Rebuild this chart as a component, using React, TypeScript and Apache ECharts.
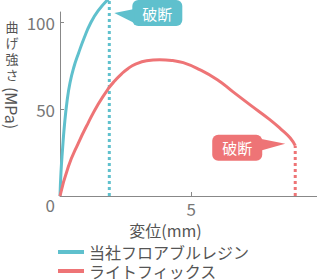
import React, { useEffect, useRef } from "react";
import * as echarts from "echarts";

// Displacement (mm) and flexural strength (MPa)
const blueX = [0, 0.038, 0.095, 0.17, 0.27, 0.38, 0.53, 0.71, 0.92, 1.15, 1.45, 1.88];
const blueY = [0, 13.8, 26.5, 40.9, 54.7, 65.1, 74.3, 82.4, 91.0, 99.1, 106.6, 114];
const redX = [0, 0.32, 0.7, 1.08, 1.46, 1.84, 2.1, 2.35, 2.6, 2.86, 3.3, 3.8, 4.3, 4.7, 5.3, 6.0, 6.6, 7.25, 8.0, 8.5, 8.78, 8.97];
const redY = [0, 17, 30.5, 42.3, 53, 61.8, 66.5, 70.4, 73.5, 75.8, 77.9, 78.5, 78, 76.8, 73, 67, 60, 52.5, 44, 37.5, 33.4, 29];
const seriesNames = ["当社フロアブルレジン", "ライトフィックス"];
const breakLabel = "破断";
const xTicks = [0, 5];
const yTicks = [0, 50, 100];
const yTitleChars = ["曲", "げ", "強", "さ"];
const yTitleUnit = "(MPa)";

const TEAL = "#5fc0cd";
const RED = "#ee7476";
const FONT = "'Noto Sans CJK JP', 'Noto Sans', sans-serif";

export default function App() {
  const ref = useRef<HTMLDivElement>(null);
  useEffect(() => {
    document.body.style.margin = "0";
    const chart = echarts.init(ref.current!, undefined, { renderer: "svg" });
    const zip = (xs: number[], ys: number[]) => xs.map((x, i) => [x, ys[i]]);
    const bx = blueX[blueX.length - 1];
    const by = blueY[blueY.length - 1];
    const rx = redX[redX.length - 1];
    const ry = redY[redY.length - 1];
    const legendBase = {
      orient: "horizontal",
      left: 58,
      padding: 0,
      itemWidth: 26,
      itemHeight: 4,
      icon: "rect",
      textStyle: { fontSize: 16, color: "#555", lineHeight: 16, fontFamily: FONT },
    };
    chart.setOption({
      animation: false,
      textStyle: { fontFamily: FONT },
      grid: { left: 60, right: 0, top: 12, bottom: 84, containLabel: false, outerBoundsMode: "none" },
      xAxis: {
        type: "value",
        min: 0,
        max: 9.8,
        interval: xTicks[1] - xTicks[0],
        name: "変位(mm)",
        nameLocation: "middle",
        nameGap: 22,
        nameTextStyle: { fontSize: 16, color: "#555", padding: [0, 46, 0, 0], fontFamily: FONT },
        axisLine: { lineStyle: { color: "#888", width: 1 } },
        axisTick: { inside: true, length: 4, lineStyle: { color: "#888" } },
        axisLabel: {
          fontSize: 17,
          color: "#777",
          margin: 4,
          showMaxLabel: false,
          formatter: (v: number) => (xTicks.indexOf(v) > 0 ? String(v) : ""),
        },
        splitLine: { show: false },
      },
      yAxis: {
        type: "value",
        min: 0,
        max: 106,
        interval: yTicks[1] - yTicks[0],
        axisLine: { show: true, lineStyle: { color: "#888", width: 1 } },
        axisTick: { show: true, inside: true, length: 4, lineStyle: { color: "#888" } },
        axisLabel: {
          fontSize: 17,
          color: "#777",
          margin: 5,
          showMaxLabel: false,
          formatter: (v: number) => (v === 0 ? "{z|0}" : yTicks.indexOf(v) >= 0 ? String(v) : ""),
          rich: { z: { fontSize: 17, color: "#777", padding: [16, 0, 0, 0] } },
        },
        splitLine: { show: false },
      },
      legend: [
        { ...legendBase, data: [seriesNames[0]], top: 244 },
        { ...legendBase, data: [seriesNames[1]], top: 263 },
      ],
      series: [
        {
          name: seriesNames[0],
          type: "line",
          data: zip(blueX, blueY),
          smooth: 0.5,
          showSymbol: false,
          clip: false,
          color: TEAL,
          lineStyle: { width: 3, color: TEAL },
          z: 3,
        },
        {
          name: seriesNames[1],
          type: "line",
          data: zip(redX, redY),
          smooth: 0.5,
          showSymbol: false,
          clip: false,
          color: RED,
          lineStyle: { width: 3, color: RED },
          z: 3,
        },
        {
          name: "blueBreak",
          type: "line",
          data: [[bx, 0], [bx, by]],
          showSymbol: false,
          clip: false,
          lineStyle: { width: 3, color: TEAL, type: [3, 3] },
          z: 2,
        },
        {
          name: "redBreak",
          type: "line",
          data: [[rx, 0], [rx, ry]],
          showSymbol: false,
          clip: false,
          lineStyle: { width: 3, color: RED, type: [3, 3] },
          z: 2,
        },
      ],
    });

    const pb = chart.convertToPixel({ gridIndex: 0 }, [bx, 0]) as number[];
    const pr = chart.convertToPixel({ gridIndex: 0 }, [rx, ry]) as number[];
    const tipB = [pb[0] + 5, 13];
    const rectB = { x: tipB[0] + 18, y: 0, width: 50, height: 26 };
    const tipR = [pr[0] - 10, pr[1] - 2];
    const rectR = { x: tipR[0] - 23 - 50, y: tipR[1] - 9, width: 50, height: 26 };

    const callout = (rect: any, tip: number[], color: string, side: "left" | "right") => {
      const edge = side === "left" ? rect.x + 2 : rect.x + rect.width - 2;
      return [
        { type: "rect", shape: { ...rect, r: 6 }, style: { fill: color }, z: 10 },
        {
          type: "polygon",
          shape: {
            points: side === "left"
              ? [tip, [edge, rect.y + 9], [edge, rect.y + 23]]
              : [[edge, rect.y + 4], [edge, rect.y + 16], tip],
          },
          style: { fill: color },
          z: 10,
        },
        {
          type: "text",
          x: rect.x + rect.width / 2,
          y: rect.y + rect.height / 2,
          style: {
            text: breakLabel,
            fill: "#fff",
            fontSize: 15,
            fontFamily: FONT,
            textAlign: "center",
            textVerticalAlign: "middle",
          },
          z: 11,
        },
      ];
    };

    chart.setOption({
      graphic: [
        ...callout(rectB, tipB, TEAL, "left"),
        ...callout(rectR, tipR, RED, "right"),
        ...yTitleChars.map((c, i) => ({
          type: "text",
          x: 12,
          y: 26 + i * 16,
          style: {
            text: c,
            fill: "#555",
            fontSize: 13,
            lineHeight: 13,
            fontFamily: FONT,
            textAlign: "center",
            textVerticalAlign: "middle",
          },
        })),
        {
          type: "text",
          x: 12,
          y: 108,
          rotation: -Math.PI / 2,
          style: {
            text: yTitleUnit,
            fill: "#555",
            fontSize: 16,
            fontFamily: FONT,
            textAlign: "center",
            textVerticalAlign: "middle",
          },
        },
      ],
    });

    return () => chart.dispose();
  }, []);
  return <div ref={ref} style={{ width: 317, height: 280 }} />;
}
